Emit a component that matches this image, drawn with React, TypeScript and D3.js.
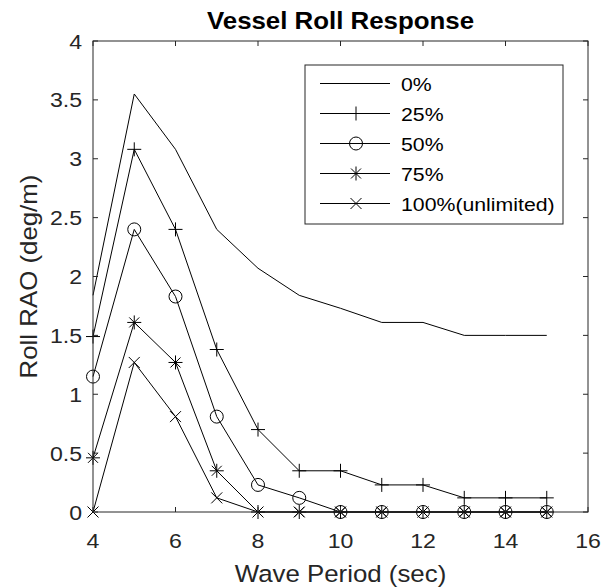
import React from "react";
import * as d3 from "d3";

const periods = [4, 5, 6, 7, 8, 9, 10, 11, 12, 13, 14, 15];
const roll0 = [1.84, 3.55, 3.08, 2.4, 2.07, 1.84, 1.73, 1.61, 1.61, 1.5, 1.5, 1.5];
const roll25 = [1.49, 3.08, 2.4, 1.38, 0.7, 0.35, 0.35, 0.23, 0.23, 0.12, 0.12, 0.12];
const roll50 = [1.15, 2.4, 1.83, 0.81, 0.23, 0.12, 0, 0, 0, 0, 0, 0];
const roll75 = [0.46, 1.61, 1.27, 0.35, 0, 0, 0, 0, 0, 0, 0, 0];
const roll100 = [0, 1.27, 0.81, 0.12, 0, 0, 0, 0, 0, 0, 0, 0];
const seriesNames = ["0%", "25%", "50%", "75%", "100%(unlimited)"];
const markerKinds = ["none", "plus", "circle", "star", "cross"];
const xTicks = [4, 6, 8, 10, 12, 14, 16];
const yTicks = [0, 0.5, 1, 1.5, 2, 2.5, 3, 3.5, 4];

const W = 613;
const H = 588;
const L = 93, R = 588, T = 41, B = 512;
const FONT = "'Liberation Sans', Arial, Helvetica, sans-serif";
const AX = "#262626";
const STRETCH = 1.1;

function Label({
  x, y, size, anchor = "start", weight = "normal", fill = AX, rotate = 0, sx = STRETCH, children,
}: {
  x: number; y: number; size: number; anchor?: string; weight?: string; fill?: string;
  rotate?: number; sx?: number; children: React.ReactNode;
}) {
  return (
    <text
      transform={`translate(${x},${y}) rotate(${rotate}) scale(${sx},1)`}
      textAnchor={anchor}
      fontSize={size}
      fontWeight={weight}
      fill={fill}
    >
      {children}
    </text>
  );
}

function Marker({ kind, cx, cy }: { kind: string; cx: number; cy: number }) {
  const s = 7;
  const common = { stroke: "#000", strokeWidth: 1, fill: "none" };
  if (kind === "plus")
    return <path d={`M${cx - s},${cy}H${cx + s}M${cx},${cy - s}V${cy + s}`} {...common} />;
  if (kind === "circle") return <circle cx={cx} cy={cy} r={6.5} {...common} />;
  if (kind === "cross") {
    const c = 5.5;
    return <path d={`M${cx - c},${cy - c}L${cx + c},${cy + c}M${cx - c},${cy + c}L${cx + c},${cy - c}`} {...common} />;
  }
  if (kind === "star") {
    const c = 5;
    return (
      <path
        d={`M${cx - s},${cy}H${cx + s}M${cx},${cy - s}V${cy + s}M${cx - c},${cy - c}L${cx + c},${cy + c}M${cx - c},${cy + c}L${cx + c},${cy - c}`}
        {...common}
      />
    );
  }
  return null;
}

export default function App() {
  const x = d3.scaleLinear().domain([4, 16]).range([L, R]);
  const y = d3.scaleLinear().domain([0, 4]).range([B, T]);
  const allSeries = [roll0, roll25, roll50, roll75, roll100];
  const line = d3
    .line<number>()
    .x((_, i) => x(periods[i]))
    .y((v) => y(v));

  const legL = 305, legT = 65, legW = 258, legH = 159;
  const rowY = (i: number) => 83.5 + i * 30;

  return (
    <svg width={W} height={H} style={{ display: "block", position: "absolute", left: 0, top: 0 }} fontFamily={FONT}>
      <rect x={0} y={0} width={W} height={H} fill="#fff" />
      {/* series */}
      {allSeries.map((vals, si) => (
        <g key={si}>
          <path d={line(vals) || ""} fill="none" stroke="#000" strokeWidth={1} />
          {vals.map((v, i) => (
            <Marker key={i} kind={markerKinds[si]} cx={x(periods[i])} cy={y(v)} />
          ))}
        </g>
      ))}
      {/* axes box */}
      <rect x={L} y={T} width={R - L} height={B - T} fill="none" stroke={AX} strokeWidth={1} />
      {xTicks.map((t) => (
        <g key={"x" + t}>
          <line x1={x(t)} x2={x(t)} y1={B} y2={B - 5} stroke={AX} />
          <line x1={x(t)} x2={x(t)} y1={T} y2={T + 5} stroke={AX} />
          <Label x={x(t)} y={B + 36} size={21} anchor="middle">
            {t}
          </Label>
        </g>
      ))}
      {yTicks.map((t) => (
        <g key={"y" + t}>
          <line x1={L} x2={L + 5} y1={y(t)} y2={y(t)} stroke={AX} />
          <line x1={R} x2={R - 5} y1={y(t)} y2={y(t)} stroke={AX} />
          <Label x={L - 11} y={y(t) + 7.5} size={21} anchor="end">
            {t}
          </Label>
        </g>
      ))}
      <Label x={(L + R) / 2} y={B + 70} size={23.5} anchor="middle">
        Wave Period (sec)
      </Label>
      <Label x={37} y={(T + B) / 2} size={23.5} anchor="middle" rotate={-90}>
        Roll RAO (deg/m)
      </Label>
      <Label x={(L + R) / 2} y={29} size={23.5} anchor="middle" weight="bold" fill="#000">
        Vessel Roll Response
      </Label>
      {/* legend */}
      <rect x={legL} y={legT} width={legW} height={legH} fill="#fff" stroke={AX} strokeWidth={1} />
      {seriesNames.map((name, i) => (
        <g key={name}>
          <line x1={320} x2={390} y1={rowY(i)} y2={rowY(i)} stroke="#000" />
          <Marker kind={markerKinds[i]} cx={356} cy={rowY(i)} />
          <Label x={401} y={rowY(i) + 7} size={19} sx={1.12} fill="#000">
            {name}
          </Label>
        </g>
      ))}
    </svg>
  );
}
